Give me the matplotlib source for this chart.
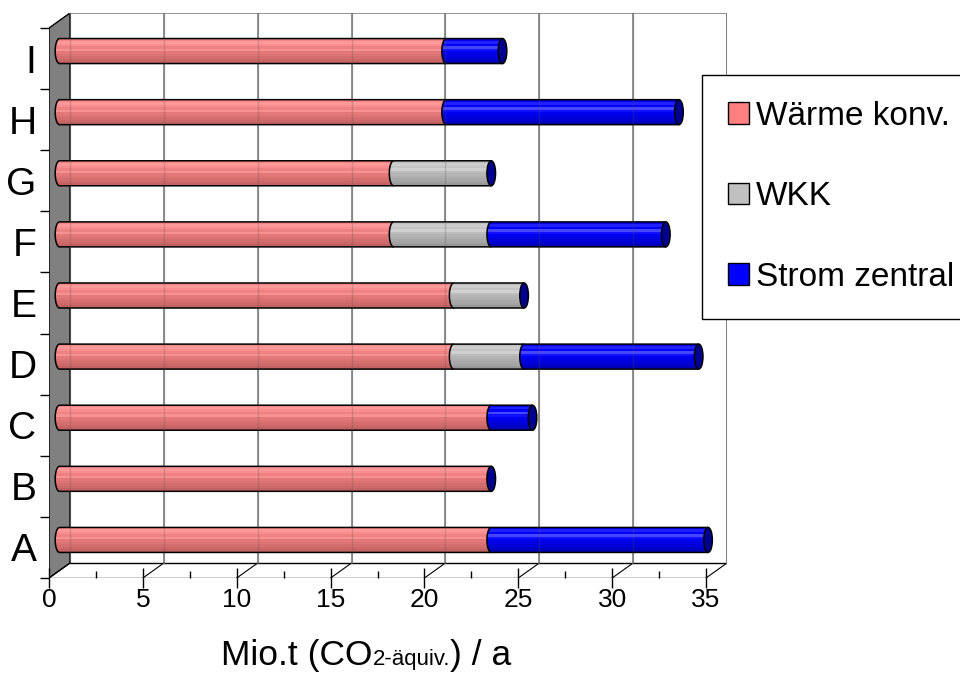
import numpy as np
import matplotlib.pyplot as plt
from matplotlib.path import Path
from matplotlib.patches import PathPatch, Polygon, Ellipse, Patch
from matplotlib.offsetbox import TextArea, HPacker, AnnotationBbox
from matplotlib.colors import to_rgb

plt.rcParams['font.family'] = ['Liberation Sans', 'DejaVu Sans']

categories = ['A', 'B', 'C', 'D', 'E', 'F', 'G', 'H', 'I']
waerme = [23.0, 23.0, 23.0, 21.0, 21.0, 17.8, 17.8, 20.6, 20.6]
wkk = [0, 0, 0, 3.75, 3.75, 5.2, 5.2, 0, 0]
strom = [11.55, 0, 2.2, 9.3, 0, 9.3, 0, 12.4, 3.0]
series_names = ['Wärme konv.', 'WKK', 'Strom zentral']
x_ticks = [0, 5, 10, 15, 20, 25, 30, 35]

# shading bands (top -> bottom) for the cylinders
shades = {
    'Wärme konv.': ['#F48686', '#FF9898', '#FA8E8E', '#EE8282', '#F69292',
                    '#E47878', '#DC7474', '#D46E6E', '#CC6868', '#C26262'],
    'WKK': ['#BEBEBE', '#CCCCCC', '#C4C4C4', '#D0D0D0', '#BCBCBC',
            '#B4B4B4', '#AEAEAE', '#A8A8A8', '#A2A2A2', '#989898'],
    'Strom zentral': ['#0000E8', '#2020FF', '#0000FF', '#4646FF', '#1010FF',
                      '#0000F0', '#0000E2', '#0000D8', '#0000CA', '#0000B8'],
}
legend_colors = ['#FF8080', '#C0C0C0', '#0000FF']
cap_color = '#000090'

W, H = 960, 673
fig = plt.figure(figsize=(W / 100, H / 100), dpi=100)
ax = fig.add_axes([49 / W, 1 - 578 / H, (727 - 49) / W, (578 - 13) / H])

n = len(categories)
xmax = x_ticks[-1]
px_x = 657 / xmax          # pixels per unit on the front plane
px_y = 550 / n             # pixels per category
DX, DY = 21 / px_x, 15 / px_y   # full depth of the box
BH = 12.5 / px_y           # bar half height
EA = 4.3 / px_x            # half width of the end ellipses
y0, y1 = -0.5, n - 0.5

# left wall
ax.add_patch(Polygon([(0, y0), (0, y1), (DX, y1 + DY), (DX, y0 + DY)],
                     closed=True, fc='#808080', ec='black', lw=1, zorder=1))

# floor
ax.plot([0, xmax], [y0, y0], color='black', lw=1, zorder=1)
ax.plot([DX, xmax + DX], [y0 + DY, y0 + DY], color='black', lw=1, zorder=1)
for t in x_ticks:
    ax.plot([t, t + DX], [y0, y0 + DY], color='black', lw=0.8, zorder=1)

# back wall grid and frame
for t in x_ticks[1:]:
    ax.plot([t + DX, t + DX], [y0 + DY, y1 + DY], color='#777777', lw=1.1, zorder=1)
ax.plot([DX, xmax + DX], [y1 + DY, y1 + DY], color='#777777', lw=1.1, zorder=1)


def cylinder(left, width, yc, bands, z):
    right = left + width
    t = np.linspace(0, np.pi, 40)
    arc = np.column_stack([left - EA * np.sin(t), yc + BH * np.cos(t)])
    outline = np.vstack([[right, yc + BH], arc, [right, yc - BH]])
    clip = PathPatch(Path(np.vstack([outline, outline[:1]]), closed=True),
                     transform=ax.transData, fc='none', ec='none')
    ax.add_patch(clip)
    grad = np.array([to_rgb(c) for c in bands])[:, None, :]
    im = ax.imshow(grad, extent=(left - EA, right, yc - BH, yc + BH),
                   aspect='auto', interpolation='nearest', origin='upper', zorder=z)
    im.set_clip_path(clip)
    ax.add_patch(PathPatch(Path(outline), fill=False, ec='black', lw=1.1, zorder=z + 0.5))


for i in range(n):
    yc = i + DY / 2
    left = DX / 2
    for name, vals in zip(series_names, [waerme, wkk, strom]):
        v = vals[i]
        if v > 0:
            cylinder(left, v, yc, shades[name], 3)
        left += v
    ax.add_patch(Ellipse((left, yc), 2 * EA, 2 * BH, fc=cap_color, ec='black',
                         lw=1.1, zorder=4))

# grid shows faintly through the bars
for t in x_ticks[:-1]:
    ax.plot([t + DX, t + DX], [y0 + DY, y1 + DY], color='#555555', lw=1,
            alpha=0.25, zorder=5)
ax.plot([xmax + DX, xmax + DX], [y0 + DY, y1 + DY], color='#777777', lw=1.1, zorder=1)

ax.set_xlim(0, xmax + DX)
ax.set_ylim(y0, y1 + DY)
ax.patch.set_visible(False)
for s in ax.spines.values():
    s.set_visible(False)

ax.set_xticks(x_ticks)
ax.set_xticklabels([str(t) for t in x_ticks], fontsize=19)
ax.set_xticks(np.arange(2.5, xmax, 5), minor=True)
ax.tick_params(axis='x', which='major', direction='inout', length=14, width=1, pad=0.5)
ax.tick_params(axis='x', which='minor', direction='in', length=5, width=1)
ax.set_yticks(range(n))
ax.set_yticklabels(categories, fontsize=28)
ax.set_yticks(np.arange(y0, y1 + 0.1, 1), minor=True)
ax.tick_params(axis='y', which='major', length=0, pad=9)
ax.tick_params(axis='y', which='minor', direction='out', length=6.5, width=1)

handles = [Patch(fc=c, ec='black', lw=1) for c in legend_colors]
leg = fig.legend(handles, series_names, loc='upper left',
                 bbox_to_anchor=(702 / W, 1 - 75 / H), bbox_transform=fig.transFigure,
                 fontsize=24, frameon=True, fancybox=False, edgecolor='black',
                 framealpha=1, borderpad=0.78, labelspacing=1.48, handlelength=0.62,
                 handleheight=0.62, handletextpad=0.22, borderaxespad=0)
leg.get_frame().set_linewidth(1)

label = HPacker(children=[TextArea('Mio.t (CO', textprops=dict(fontsize=25.5)),
                          TextArea('2-äquiv.', textprops=dict(fontsize=16)),
                          TextArea(') / a', textprops=dict(fontsize=25.5))],
                align='baseline', pad=0, sep=0)
fig.add_artist(AnnotationBbox(label, (366, H - 656), xycoords='figure pixels',
                              frameon=False, box_alignment=(0.5, 0.5)))

fig.savefig('out.png', dpi=100)
